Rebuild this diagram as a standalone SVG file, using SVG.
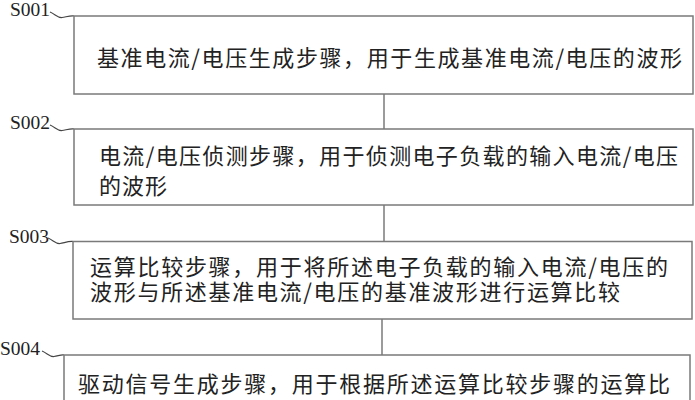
<svg xmlns="http://www.w3.org/2000/svg" width="695" height="400" viewBox="0 0 695 400">
<style>
.box{fill:#fff;stroke:#7a7a7a;stroke-width:1.5}
.con{fill:none;stroke:#7a7a7a;stroke-width:1.5}
.lead{fill:none;stroke:#444;stroke-width:1.2}
.lbl{font-family:"Liberation Serif","Times New Roman",serif;font-size:19.5px;fill:#222}
.t{font-family:"Noto Sans CJK SC","Noto Sans",sans-serif;font-size:22px;fill:#222}
</style>
<rect width="695" height="400" fill="#fff"/>
<g id="connectors">
<line class="con" x1="384" y1="94" x2="384" y2="129"/>
<line class="con" x1="384" y1="205" x2="384" y2="241.5"/>
<line class="con" x1="382" y1="319" x2="382" y2="355"/>
</g>
<g id="S001">
<text class="lbl" x="10" y="16">S001</text>
<path class="lead" d="M50,12 C55,14 58,18 62,17.5 C66,17 70,15.5 74,16"/>
<rect class="box" x="74" y="16" width="619" height="78"/>
<text class="t" x="97" y="65.5" textLength="585" lengthAdjust="spacing">基准电流/电压生成步骤，用于生成基准电流/电压的波形</text>
</g>
<g id="S002">
<text class="lbl" x="10" y="128.5">S002</text>
<path class="lead" d="M50,125 C55,127 58,131 62,130.5 C66,130 70,128.5 74,129"/>
<rect class="box" x="74" y="129" width="619" height="76"/>
<text class="t" x="99" y="163.5" textLength="579" lengthAdjust="spacing">电流/电压侦测步骤，用于侦测电子负载的输入电流/电压</text>
<text class="t" x="99" y="193.5" textLength="68" lengthAdjust="spacing">的波形</text>
</g>
<g id="S003">
<text class="lbl" x="9" y="242.5">S003</text>
<path class="lead" d="M48,238 C53,240 56,244 60,243.5 C64,243 68,241 73,241.5"/>
<rect class="box" x="73" y="241.5" width="619" height="77.5"/>
<text class="t" x="90" y="275" textLength="578" lengthAdjust="spacing">运算比较步骤，用于将所述电子负载的输入电流/电压的</text>
<text class="t" x="90" y="300" textLength="530" lengthAdjust="spacing">波形与所述基准电流/电压的基准波形进行运算比较</text>
</g>
<g id="S004">
<text class="lbl" x="0" y="355">S004</text>
<path class="lead" d="M42,351 C47,353 50,357 54,356.5 C58,356 61,354.5 64,355"/>
<rect class="box" x="64" y="355" width="626" height="60"/>
<text class="t" x="78" y="391.5" textLength="592" lengthAdjust="spacing">驱动信号生成步骤，用于根据所述运算比较步骤的运算比</text>
</g>
</svg>
